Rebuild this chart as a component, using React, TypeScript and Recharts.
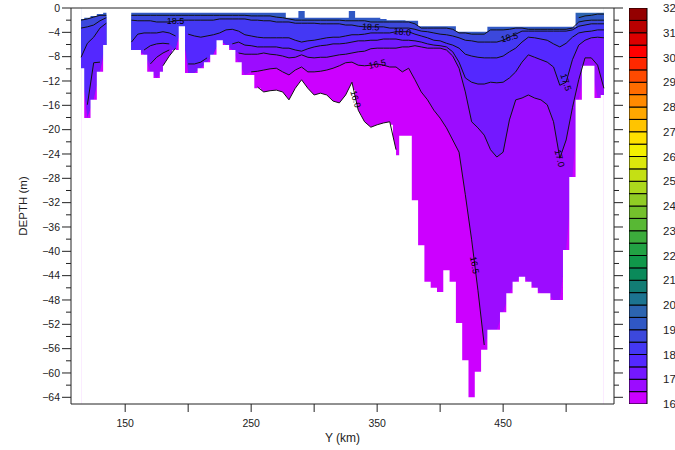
import React from "react";
import {
  ComposedChart,
  Area,
  Bar,
  Line,
  XAxis,
  YAxis,
  ReferenceDot,
} from "recharts";

const FONT = "'Liberation Sans', Arial, Helvetica, sans-serif";
const INK = "#222";
const FLOOR = -65.1;

// distance along the section (km), one column every 5 km
const sectionKm = [
  115, 120, 125, 130, 135, 140, 145, 150, 155, 160, 165, 170, 175, 180, 185, 190, 195, 200,
  205, 210, 215, 220, 225, 230, 235, 240, 245, 250, 255, 260, 265, 270, 275, 280, 285, 290,
  295, 300, 305, 310, 315, 320, 325, 330, 335, 340, 345, 350, 355, 360, 365, 370, 375, 380,
  385, 390, 395, 400, 405, 410, 415, 420, 425, 430, 435, 440, 445, 450, 455, 460, 465, 470,
  475, 480, 485, 490, 495, 500, 505, 510, 515, 520, 525, 530,
];

// upper edge of the data (m)
const surfaceDepth = [
  -1.8, -1.6, -1.3, -1.0, -0.8, null, null, null, -0.8, -0.8, -0.8, -0.8, -0.8, -0.8, -0.8, -0.8, -0.8, -0.8,
  -0.8, -0.8, -0.8, -0.8, -0.8, -0.8, -0.8, -0.8, -0.8, -0.8, -0.8, -0.8, -0.8, -0.8, -0.8, -1.6, -1.6, -0.5,
  -1.6, -1.6, -1.6, -1.6, -1.6, -1.6, -1.6, -0.5, -1.6, -1.6, -1.6, -1.6, -1.8, -2.0, -2.0, -2.0, -2.1, -2.1,
  -3.0, -3.0, -3.0, -3.0, -3.0, -3.0, -3.9, -3.9, -3.9, -3.9, -3.9, -3.1, -3.1, -3.1, -3.1, -3.1, -3.1, -3.1,
  -3.1, -3.1, -3.1, -3.1, -3.1, -3.1, -3.1, -0.8, -0.8, -0.8, -0.8, -0.8,
];

// bottom of the data (m)
const seabedDepth = [
  -9.9, -18.1, -15.1, -10.5, -6.1, null, null, null, -6.9, -6.9, -7.7, -10.5, -11.5, -10.5, -11.8, -6.9, -3.0, -10.7,
  -10.7, -9.9, -8.9, -7.7, -5.3, -6.1, -6.9, -8.9, -11.0, -11.0, -13.2, -14.3, -14.3, -14.3, -14.3, -15.9, -14.3, -13.5,
  -14.3, -14.8, -14.8, -14.8, -15.9, -15.9, -15.1, -13.5, -17.6, -19.2, -20.1, -20.1, -19.7, -19.2, -24.2, -21.0, -21.0, -31.6,
  -39.0, -45.0, -46.0, -46.7, -43.1, -45.0, -51.8, -57.9, -64.0, -59.8, -56.2, -52.9, -52.9, -50.0, -46.9, -45.0, -44.2, -45.0,
  -46.0, -46.9, -46.9, -48.0, -48.0, -39.8, -27.8, -15.1, -9.5, -9.5, -14.8, -14.3,
];

// isotherm depths (m)
const iso195 = [
  null, null, null, null, null, null, null, null, null, null, null, null, null, null, null, null, null, null,
  null, null, null, null, null, null, null, null, null, null, null, null, null, null, null, null, null, null,
  null, null, null, null, null, null, null, null, null, null, null, null, null, null, null, null, null, null,
  null, null, null, null, null, null, null, null, null, null, null, null, null, null, null, null, null, null,
  null, null, null, null, null, null, null, -1.6, -1.3, -1.2, -1.0, -1.0,
];
const iso190 = [
  -2.0, -1.8, -1.5, -1.2, -1.2, null, null, null, -1.2, -1.2, -1.2, -1.2, -1.2, -1.2, -1.2, -1.2, -1.2, -1.2,
  -1.2, -1.2, -1.2, -1.2, -1.2, -1.2, -1.2, -1.2, -1.2, -1.3, -1.3, -1.3, -1.3, -1.5, -1.6, -1.8, -2.0, -2.0,
  -2.0, -2.0, -2.0, -2.0, -2.0, -2.0, -2.1, -2.1, -2.1, -2.1, -2.3, -2.3, -2.3, -2.3, -2.3, -2.3, -2.3, -2.6,
  -3.3, -3.3, -3.3, -3.3, -3.3, -3.5, -4.1, -4.1, -4.3, -4.3, -4.3, -3.6, -3.6, -3.6, -3.5, -3.3, -3.3, -3.5,
  -3.5, -3.5, -3.5, -3.5, -3.5, -3.5, -3.3, -2.3, -2.1, -2.0, -2.0, -2.0,
];
const iso185 = [
  -3.3, -3.1, -2.8, -2.1, -1.6, null, null, null, -2.0, -2.1, -2.1, -2.1, -2.3, -2.3, -2.3, -2.1, -2.0, -2.0,
  -2.0, -2.0, -2.0, -2.0, -1.8, -1.8, -1.8, -1.8, -1.8, -2.0, -2.0, -2.1, -2.1, -2.3, -2.3, -2.3, -2.5, -2.5,
  -2.5, -2.5, -2.6, -2.6, -2.6, -2.6, -2.8, -2.8, -3.0, -3.1, -3.1, -3.1, -3.1, -3.3, -3.3, -3.3, -3.3, -3.5,
  -3.8, -3.9, -4.1, -4.3, -4.4, -4.6, -4.9, -5.3, -5.4, -5.6, -5.6, -5.6, -5.6, -5.3, -4.8, -4.3, -3.8, -3.8,
  -3.8, -3.8, -3.8, -3.8, -3.8, -3.8, -3.6, -3.0, -2.8, -2.6, -2.6, -2.6,
];
const iso180 = [
  -8.1, -5.8, -4.8, -3.3, -2.5, null, null, null, -5.6, -4.3, -4.1, -4.1, -4.1, -3.9, -4.1, -4.6, null, -4.3,
  -4.6, -4.8, -4.6, -4.4, -4.1, -3.6, -3.5, -3.8, -4.4, -4.6, -4.8, -4.9, -4.9, -4.9, -4.9, -4.9, -5.3, -5.6,
  -5.4, -5.3, -5.1, -4.9, -4.8, -4.8, -4.6, -4.4, -4.4, -4.3, -4.1, -4.1, -4.1, -4.1, -3.9, -3.9, -3.9, -4.3,
  -4.6, -4.9, -5.3, -5.4, -5.8, -6.1, -6.6, -7.6, -7.9, -8.1, -8.2, -8.2, -8.2, -7.9, -7.2, -6.6, -5.6, -4.8,
  -4.9, -5.1, -5.3, -5.9, -6.4, -5.8, -4.8, -4.1, -3.9, -3.8, -3.6, -3.6,
];
const iso175 = [
  null, -15.9, -9.0, -8.9, null, null, null, null, null, null, -6.9, -6.2, -5.9, -5.8, -5.9, null, null, -9.2,
  -9.2, -8.9, -8.2, null, null, null, -5.9, -5.6, -6.1, -6.2, -6.4, -6.4, -6.4, -6.4, -6.6, -6.6, -6.9, -7.1,
  -6.7, -6.4, -6.2, -6.1, -5.9, -5.9, -5.8, -5.6, -5.4, -5.4, -5.3, -5.3, -5.1, -5.1, -5.1, -5.3, -5.3, -5.4,
  -5.6, -5.9, -6.1, -6.2, -6.4, -7.2, -8.9, -11.5, -12.2, -12.5, -12.5, -12.2, -12.3, -12.2, -11.5, -10.5, -8.9, -7.7,
  -8.1, -8.5, -8.9, -9.7, -12.7, -12.2, -8.5, -6.1, -5.3, -4.9, -4.8, -4.9,
];
const iso170 = [
  null, null, null, null, null, null, null, null, null, null, null, -9.2, -8.1, -7.4, -6.9, null, null, null,
  null, null, null, null, null, null, null, -7.4, -7.6, -7.6, -7.6, -7.4, -7.6, -7.7, -7.9, -8.2, -8.1, -7.7,
  -8.1, -8.2, -8.1, -8.1, -7.9, -7.7, -7.6, -7.4, -7.2, -7.1, -6.7, -6.6, -6.6, -6.6, -6.6, -6.4, -6.4, -6.2,
  -6.4, -6.6, -6.6, -6.6, -6.9, -7.9, -9.9, -13.8, -18.7, -19.7, -20.9, -23.3, -24.5, -23.7, -18.4, -15.1, -14.8, -14.3,
  -14.8, -15.1, -15.9, -18.7, -24.7, -21.7, -16.4, -11.8, -8.2, -8.2, -9.4, -13.2,
];
const iso165 = [
  null, null, null, null, null, null, null, null, null, null, null, null, null, null, null, null, null, null,
  null, null, null, null, null, null, null, null, null, -10.5, -10.4, -10.2, -10.0, -9.9, -10.5, -11.0, -10.2, -9.7,
  -10.5, -10.5, -10.4, -10.2, -9.9, -9.5, -9.0, -8.9, -9.4, -9.5, -9.4, -9.2, -9.4, -9.7, -9.7, -10.5, -9.9, -11.8,
  -13.8, -15.1, -16.8, -18.1, -19.7, -21.7, -23.7, -30.7, -38.1, -46.4, -55.4, null, null, null, null, null, null, null,
  null, null, null, null, null, null, null, null, null, null, null, null,
];
const iso160 = [
  null, null, null, null, null, null, null, null, null, null, null, null, null, -9.5, -7.9, -6.6, null, null,
  null, null, null, null, null, null, null, null, null, null, -13.0, -13.8, -13.6, -13.5, -13.8, -15.1, -13.2, -11.8,
  -13.2, -14.3, -14.0, -14.3, -15.3, -15.6, -14.3, -12.2, -16.8, -18.7, -19.6, -19.2, -18.9, -18.7, -23.3, null, null, null,
  null, null, null, null, null, null, null, null, null, null, null, null, null, null, null, null, null, null,
  null, null, null, null, null, null, null, null, null, null, null, null,
];

const kmTicks = [150, 200, 250, 300, 350, 400, 450, 500];
const kmLabelled = [150, 250, 350, 450];
const depthTicks = [
  0, -2, -4, -6, -8, -10, -12, -14, -16, -18, -20, -22, -24, -26, -28, -30, -32,
  -34, -36, -38, -40, -42, -44, -46, -48, -50, -52, -54, -56, -58, -60, -62, -64,
];

// colour bar: 0.5 degree levels from 16 to 32
const colorLevels = [
  16, 16.5, 17, 17.5, 18, 18.5, 19, 19.5, 20, 20.5, 21, 21.5, 22, 22.5, 23, 23.5, 24,
  24.5, 25, 25.5, 26, 26.5, 27, 27.5, 28, 28.5, 29, 29.5, 30, 30.5, 31, 31.5, 32,
];
const levelColors = [
  "#cc00ff", "#9c0cff", "#7418ff", "#5428ff", "#4438f4", "#3c48dc", "#3058c4", "#2c64b0",
  "#1c7490", "#127c74", "#0a8a5a", "#10984a", "#22a244", "#3cac3c", "#58b834", "#74c02c",
  "#90cc24", "#acd81c", "#c4e014", "#dce80c", "#f4f000", "#ffe000", "#ffc400", "#ffa800",
  "#ff8a00", "#ff6c00", "#ff4a00", "#ff2800", "#ff0000", "#dc0000", "#b80000", "#940000",
];
const colorbarTicks = [16, 17, 18, 19, 20, 21, 22, 23, 24, 25, 26, 27, 28, 29, 30, 31, 32];

// contour labels
const labelKm = [190, 345, 370, 350, 455, 500, 495, 427.5, 333];
const labelLine = ["l185", "l185", "l180", "l165", "l185", "l175", "l170", "l165", "l160"];
const labelText = ["18.5", "18.5", "18.0", "16.5", "18.5", "17.5", "17.0", "16.5", "16.0"];
const labelAngle = [0, 4, 6, -12, -14, 72, 76, 80, 74];

const rows = sectionKm.map((k, i) => ({
  km: k,
  top: surfaceDepth[i],
  bottom: seabedDepth[i],
  l195: iso195[i],
  l190: iso190[i],
  l185: iso185[i],
  l180: iso180[i],
  l175: iso175[i],
  l170: iso170[i],
  l165: iso165[i],
  l160: iso160[i],
}));

const lineSeries = {
  l195: iso195,
  l190: iso190,
  l185: iso185,
  l180: iso180,
  l175: iso175,
  l170: iso170,
  l165: iso165,
  l160: iso160,
};

// colour bar as one stacked column: an invisible base up to 16, then one piece per level
const colorbarRow = { name: "T", base: colorLevels[0] };
levelColors.forEach((_, i) => {
  colorbarRow[`s${i}`] = colorLevels[i + 1] - colorLevels[i];
});

// fill layers, warmest first; each one covers everything below its isotherm
const bands = [
  { color: levelColors[7], upper: (r) => 0 },
  { color: levelColors[6], upper: (r) => r.l195 ?? 0 },
  { color: levelColors[5], upper: (r) => r.l190 ?? 0 },
  { color: levelColors[4], upper: (r) => r.l185 ?? r.bottom },
  { color: levelColors[3], upper: (r) => r.l180 ?? r.bottom },
  { color: levelColors[2], upper: (r) => r.l175 ?? r.bottom },
  { color: levelColors[1], upper: (r) => r.l170 ?? r.bottom },
  { color: levelColors[0], upper: (r) => r.l165 ?? r.bottom },
];

function valueAt(series, k) {
  for (let i = 0; i < sectionKm.length - 1; i++) {
    const a = sectionKm[i];
    const b = sectionKm[i + 1];
    if (k >= a && k <= b) {
      const va = series[i];
      const vb = series[i + 1];
      if (va == null) return vb;
      if (vb == null) return va;
      return va + ((vb - va) * (k - a)) / (b - a);
    }
  }
  return null;
}

const fmtDepth = (v) => (v === 0 ? "0" : `\u2212${Math.abs(v)}`);

const LeftTick = ({ x, y, payload }) => {
  const v = payload.value;
  const major = v % 4 === 0;
  return (
    <g>
      <line x1={x - (major ? 9 : 5)} x2={x} y1={y} y2={y} stroke={INK} />
      {major && (
        <text x={x - 11} y={y} dy="0.36em" textAnchor="end" fontSize={10.5} fontFamily={FONT} fill={INK}>
          {fmtDepth(v)}
        </text>
      )}
    </g>
  );
};

const RightTick = ({ x, y, payload }) => {
  const major = payload.value % 4 === 0;
  return <line x1={x} x2={x + (major ? 9 : 5)} y1={y} y2={y} stroke={INK} />;
};

const BottomTick = ({ x, y, payload }) => (
  <g>
    <line x1={x} x2={x} y1={y} y2={y + 8} stroke={INK} />
    {kmLabelled.includes(payload.value) && (
      <text x={x} y={y + 23} textAnchor="middle" fontSize={10.5} fontFamily={FONT} fill={INK}>
        {payload.value}
      </text>
    )}
  </g>
);

const TopTick = ({ x, y }) => <line x1={x} x2={x} y1={y - 8} y2={y} stroke={INK} />;

const ColorTick = ({ x, y, payload }) => (
  <text x={x + 16} y={y} dy="0.36em" textAnchor="start" fontSize={11.5} fontFamily={FONT} fill={INK}>
    {payload.value}
  </text>
);

const DepthTitle = ({ viewBox }) => {
  const cx = viewBox.x + 23;
  const cy = viewBox.y + viewBox.height / 2;
  return (
    <text x={cx} y={cy} transform={`rotate(-90, ${cx}, ${cy})`} textAnchor="middle" dy="0.36em"
      fontSize={11.5} fontFamily={FONT} fill={INK}>
      DEPTH (m)
    </text>
  );
};

const KmTitle = ({ viewBox }) => (
  <text x={viewBox.x + viewBox.width / 2} y={viewBox.y + 34} textAnchor="middle" dy="0.36em"
    fontSize={12} fontFamily={FONT} fill={INK}>
    Y (km)
  </text>
);

export default function App() {
  return (
    <div style={{ position: "absolute", left: 0, top: 0, width: 675, height: 450, background: "#fff", overflow: "hidden" }}>
      <div style={{ position: "absolute", left: 0, top: 0 }}>
        <ComposedChart width={640} height={450} data={rows} margin={{ top: 0, right: 0, bottom: 0, left: 0 }}>
          {bands.map((b, i) => (
            <Area
              key={`band${i}`}
              xAxisId="b"
              yAxisId="l"
              type="linear"
              dataKey={(r) => (r.top == null ? null : [FLOOR, b.upper(r)])}
              fill={b.color}
              fillOpacity={1}
              stroke="none"
              dot={false}
              activeDot={false}
              isAnimationActive={false}
            />
          ))}
          {/* water colder than 16 is left blank */}
          <Area xAxisId="b" yAxisId="l" type="linear"
            dataKey={(r) => (r.l160 == null ? null : [FLOOR, r.l160])}
            fill="#fff" fillOpacity={1} stroke="none" dot={false} activeDot={false} isAnimationActive={false} />
          {/* below the sea bed, and the columns with no data at all */}
          <Area xAxisId="b" yAxisId="l" type="step"
            dataKey={(r) => [FLOOR, r.bottom == null ? 0 : r.bottom]}
            fill="#fff" fillOpacity={1} stroke="none" dot={false} activeDot={false} isAnimationActive={false} />
          <Area xAxisId="b" yAxisId="l" type="step"
            dataKey={(r) => (r.top == null ? [FLOOR, 0] : [r.top, 0])}
            fill="#fff" fillOpacity={1} stroke="none" dot={false} activeDot={false} isAnimationActive={false} />
          {Object.keys(lineSeries).map((k) => (
            <Line key={k} xAxisId="b" yAxisId="l" type="linear" dataKey={k} stroke="#111" strokeWidth={1}
              dot={false} activeDot={false} connectNulls={false} isAnimationActive={false} />
          ))}
          {labelKm.map((k, i) => (
            <ReferenceDot
              key={`lab${i}`}
              xAxisId="b"
              yAxisId="l"
              x={k}
              y={valueAt(lineSeries[labelLine[i]], k)}
              r={0}
              shape={(p) => (
                <text x={p.cx} y={p.cy} dy="0.36em" textAnchor="middle" fontSize={9} fontFamily={FONT} fill="#000"
                  transform={`rotate(${labelAngle[i]}, ${p.cx}, ${p.cy})`}>
                  {labelText[i]}
                </text>
              )}
            />
          ))}
          <XAxis xAxisId="b" type="number" dataKey="km" domain={[107, 538]} allowDataOverflow ticks={kmTicks}
            interval={0} height={46} tickSize={0} tickMargin={0} tick={<BottomTick />}
            axisLine={{ stroke: INK }} tickLine={false} label={(p) => <KmTitle {...p} />} />
          <XAxis xAxisId="t" orientation="top" type="number" domain={[107, 538]} allowDataOverflow ticks={kmTicks}
            interval={0} height={8} tickSize={0} tickMargin={0} tick={<TopTick />}
            axisLine={{ stroke: INK }} tickLine={false} />
          <YAxis yAxisId="l" type="number" domain={[FLOOR, 0]} allowDataOverflow ticks={depthTicks}
            interval={0} width={71} tickSize={0} tickMargin={0} tick={<LeftTick />}
            axisLine={{ stroke: INK }} tickLine={false} label={(p) => <DepthTitle {...p} />} />
          <YAxis yAxisId="r" orientation="right" type="number" domain={[FLOOR, 0]} allowDataOverflow ticks={depthTicks}
            interval={0} width={26} tickSize={0} tickMargin={0} tick={<RightTick />}
            axisLine={{ stroke: INK }} tickLine={false} />
        </ComposedChart>
      </div>
      <div style={{ position: "absolute", left: 629, top: 0 }}>
        <ComposedChart width={46} height={450} data={[colorbarRow]} margin={{ top: 8, right: 0, bottom: 46, left: 0 }}
          barCategoryGap={0} barGap={0}>
          <XAxis hide type="category" dataKey="name" />
          <YAxis orientation="right" type="number" domain={[16, 32]} allowDataOverflow ticks={colorbarTicks} interval={0}
            width={28} tickSize={0} tickMargin={0} axisLine={false} tickLine={false} tick={<ColorTick />} />
          <Bar dataKey="base" stackId="cb" fill="none" isAnimationActive={false} />
          {levelColors.map((c, i) => (
            <Bar key={`cb${i}`} dataKey={`s${i}`} stackId="cb" fill={c} stroke="#000" strokeWidth={1}
              isAnimationActive={false} />
          ))}
        </ComposedChart>
      </div>
    </div>
  );
}
